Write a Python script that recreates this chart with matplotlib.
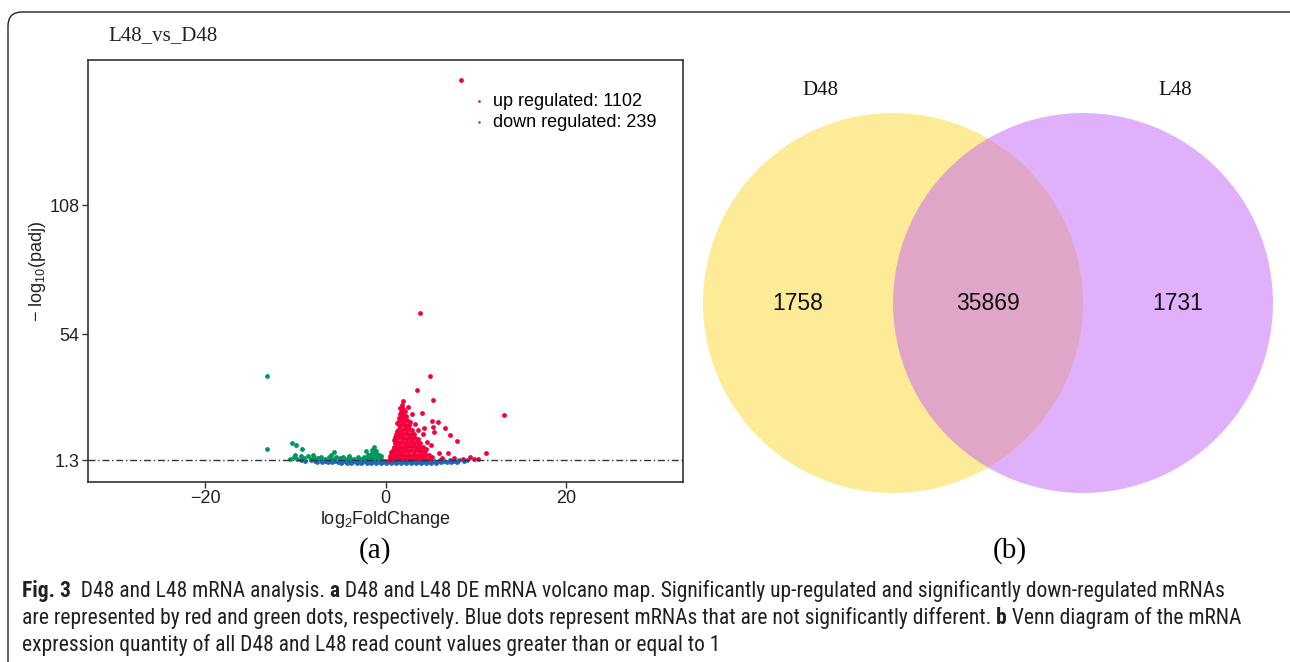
import matplotlib
matplotlib.use('Agg')
import matplotlib.pyplot as plt
from matplotlib import font_manager
from matplotlib.patches import Circle, FancyBboxPatch

# ---- volcano data (log2FoldChange, -log10(padj)) ----
up_x = [8.33, 3.78, 4.9, 13.1, 3.5, 1.97, 5.3, 1.85, 4.07, 2.9, 5.2, 5.85, 4.3, 5.3, 6.6,
        5.4, 7.1, 4.2, 4.6, 7.9, 5.9, 6.9, 11.1, 9.4, 10.3, 9.8, 7.6, 8.6, 6.3, 5.2,
        3.3, 2.5, 3.6, 4.5, 5.0,
        0.45, 0.55, 0.75, 0.85, 0.8, 0.9,
        1.05, 1.15, 1.1, 1.2, 1.05, 1.2, 1.15,
        1.35, 1.45, 1.4, 1.5, 1.35, 1.45, 1.4, 1.5, 1.45, 1.55,
        1.7, 1.75, 1.65, 1.75, 1.7, 1.8, 1.65, 1.75, 1.7, 1.8, 1.75,
        2.0, 2.05, 1.95, 2.05, 2.0, 2.1, 1.95, 2.05, 2.0, 2.1, 2.0, 2.05,
        2.3, 2.35, 2.25, 2.35, 2.3, 2.4, 2.25, 2.35, 2.3, 2.4, 2.3,
        2.6, 2.65, 2.55, 2.65, 2.6, 2.7, 2.55, 2.65, 2.6, 2.7,
        2.9, 2.95, 2.85, 2.95, 2.9, 3.0, 2.85, 2.95,
        3.2, 3.25, 3.15, 3.25, 3.2, 3.3, 3.15,
        3.5, 3.55, 3.45, 3.55, 3.5, 3.6,
        3.8, 3.85, 3.75, 3.85, 3.8,
        4.1, 4.15, 4.05, 4.2,
        4.4, 4.45, 4.4,
        4.8, 4.85,
        0.95, 1.25, 1.6, 1.9, 2.15, 1.3, 1.55, 1.85, 2.2, 1.0,
        0.35, 0.65, 1.6, 1.8, 1.7]
up_y = [160.3, 62.8, 36.4, 20.0, 30.6, 26.1, 26.4, 22.9, 20.8, 20.5, 17.7, 17.3, 14.7, 15.2, 14.6,
        13.1, 11.8, 12.2, 9.0, 9.2, 4.4, 4.1, 4.4, 2.4, 1.7, 1.6, 2.0, 1.9, 2.2, 2.5,
        16.5, 23.5, 14.0, 6.0, 7.5,
        1.6, 2.9, 1.9, 3.6, 5.3, 6.9,
        1.7, 3.3, 5.0, 6.8, 8.5, 10.2, 12.1,
        2.0, 3.7, 5.5, 7.2, 9.0, 10.8, 12.6, 14.3, 16.1, 17.6,
        1.8, 3.4, 5.1, 6.9, 8.7, 10.5, 12.3, 14.0, 15.9, 17.7, 19.4,
        1.6, 3.3, 5.0, 6.8, 8.6, 10.4, 12.2, 14.1, 15.8, 17.6, 19.5, 21.2,
        1.9, 3.6, 5.4, 7.1, 8.9, 10.7, 12.5, 14.3, 16.0, 17.9, 19.6,
        1.7, 3.4, 5.2, 7.0, 8.8, 10.5, 12.3, 14.1, 15.9, 17.4,
        1.8, 3.6, 5.3, 7.1, 8.8, 10.6, 12.3, 14.0,
        1.6, 3.4, 5.1, 6.9, 8.6, 10.4, 12.1,
        1.9, 3.6, 5.3, 7.0, 8.8, 10.3,
        1.7, 3.4, 5.2, 6.9, 8.5,
        1.8, 3.5, 5.2, 6.7,
        1.6, 3.3, 5.0,
        1.9, 3.3,
        9.5, 13.5, 20.5, 22.5, 21.8, 16.8, 19.0, 20.2, 18.8, 11.0,
        1.5, 4.5, 23.0, 24.5, 21.5]

down_x = [-13.2, -13.2, -10.4, -9.95, -9.3, -5.7, -2.2, -1.85,
          -10.6, -10.2, -9.8, -9.4, -9.0, -8.6, -8.3, -7.9, -7.5, -7.1, -6.7, -6.3, -5.9,
          -5.5, -5.1, -4.7, -4.3, -3.9, -3.5, -3.1, -2.7, -2.4, -10.0, -8.0, -6.0, -4.0,
          -2.0, -1.9, -1.7, -1.6, -1.55, -1.4, -1.35, -1.3, -1.25, -1.1, -1.05, -1.0,
          -0.8, -0.75, -0.55, -0.5]
down_y = [36.4, 5.9, 8.3, 7.6, 5.8, 4.8, 5.1, 3.4,
          1.8, 2.6, 1.9, 3.0, 2.2, 2.8, 1.8, 2.5, 2.0, 2.7, 1.9, 2.4, 1.8,
          2.6, 2.0, 2.5, 1.8, 2.3, 1.9, 2.6, 1.8, 2.4, 3.4, 3.3, 3.2, 3.0,
          2.0, 3.3, 2.2, 3.9, 5.4, 2.0, 3.7, 5.5, 6.9, 2.1, 3.8, 5.2,
          2.0, 3.4, 1.9, 2.9]

ns_x = [-9.4, -8.9, -8.3, -7.8, -7.2, -6.7, -6.1, -5.6, -5.0, -4.5, -3.9, -3.4, -2.8, -2.3,
        -1.7, -1.2, -0.6, -0.1, 0.5, 1.0, 1.6, 2.1, 2.7, 3.2, 3.8, 4.3, 4.9, 5.4, 6.0, 6.5,
        7.1, 7.6, 8.2, 8.7, 9.0,
        -7.6, -7.0, -6.4, -5.9, -5.3, -4.8, -4.2, -3.7, -3.1, -2.6, -2.0, -1.5, -0.9, -0.4,
        0.2, 0.7, 1.3, 1.8, 2.4, 2.9, 3.5, 4.0, 4.6, 5.1, 5.7, 6.2, 6.8, 7.3, 7.9,
        -4.9, -4.3, -3.8, -3.2, -2.7, -2.1, -1.6, -1.0, -0.5, 0.1, 0.6, 1.2, 1.7, 2.3,
        2.8, 3.4, 3.9, 4.5, 5.0, 5.6]
ns_y = [1.1, 1.0, 1.1, 1.0, 1.1, 1.0, 1.1, 1.0, 1.1, 1.0, 1.1, 1.0, 1.1, 1.0,
        1.1, 1.0, 1.1, 1.0, 1.1, 1.0, 1.1, 1.0, 1.1, 1.0, 1.1, 1.0, 1.1, 1.0, 1.1, 1.0,
        1.1, 1.0, 1.1, 1.0, 1.1,
        0.4, 0.5, 0.4, 0.5, 0.4, 0.5, 0.4, 0.5, 0.4, 0.5, 0.4, 0.5, 0.4, 0.5,
        0.4, 0.5, 0.4, 0.5, 0.4, 0.5, 0.4, 0.5, 0.4, 0.5, 0.4, 0.5, 0.4, 0.5, 0.4,
        0.0, 0.05, 0.0, 0.05, 0.0, 0.05, 0.0, 0.05, 0.0, 0.05, 0.0, 0.05, 0.0, 0.05,
        0.0, 0.05, 0.0, 0.05, 0.0, 0.05]

n_up = 1102
n_down = 239
padj_cut = 1.3
x_ticks = [-20, 0, 20]
y_ticks = [1.3, 54, 108]

# ---- venn data ----
venn_sets = ['D48', 'L48']
venn_counts = [1758, 35869, 1731]   # only D48, both, only L48

caption_lines = [
    [("Fig. 3", True), ("  D48 and L48 mRNA analysis. ", False), ("a", True),
     (" D48 and L48 DE mRNA volcano map. Significantly up-regulated and significantly down-regulated mRNAs", False)],
    [("are represented by red and green dots, respectively. Blue dots represent mRNAs that are not significantly different. ", False),
     ("b", True), (" Venn diagram of the mRNA", False)],
    [("expression quantity of all D48 and L48 read count values greater than or equal to 1", False)],
]

RED = '#F5003D'
GREEN = '#00965F'
BLUE = '#1C67C6'

plt.rcParams['font.family'] = ['Liberation Sans', 'DejaVu Sans']
plt.rcParams['mathtext.default'] = 'regular'

fig = plt.figure(figsize=(12.9, 6.62), dpi=100)

# overlay in pixel units for frame, caption, panel letters
bg = fig.add_axes([0, 0, 1, 1], zorder=0)
bg.set_xlim(0, 1290)
bg.set_ylim(662, 0)
bg.axis('off')
bg.add_patch(FancyBboxPatch((8, 12), 1300, 700, boxstyle='round,pad=0,rounding_size=14',
                            fc='none', ec='#222222', lw=1.0))

# ---- volcano ----
ax = fig.add_axes([88 / 1290, 1 - 482 / 662, 595 / 1290, 422 / 662], zorder=2)
ax.scatter(ns_x, ns_y, s=12, c=BLUE, lw=0, zorder=2)
sc_down = ax.scatter(down_x, down_y, s=12, c=GREEN, lw=0, zorder=3)
sc_up = ax.scatter(up_x, up_y, s=12, c=RED, lw=0, zorder=3)
ax.axhline(padj_cut, color='#333333', lw=1.0, ls=(0, (5, 2, 1, 2)), zorder=4)
ax.set_xlim(-33, 33)
ax.set_ylim(-7.9, 168.7)
ax.set_xticks(x_ticks)
ax.set_xticklabels(['\u221220', '0', '20'])
ax.set_yticks(y_ticks)
ax.set_yticklabels(['1.3', '54', '108'])
ax.tick_params(labelsize=13, color='#333333', labelcolor='#222222', length=4, width=1, pad=2)
for sp in ax.spines.values():
    sp.set_color('#333333')
    sp.set_linewidth(1.2)
ax.set_xlabel('log$_{2}$FoldChange', fontsize=13, color='#222222', labelpad=1)
ax.set_ylabel('\u2212 log$_{10}$(padj)', fontsize=13, color='#222222', labelpad=1)
ax.legend([sc_up, sc_down], [f'up regulated: {n_up}', f'down regulated: {n_down}'],
          loc='upper left', bbox_to_anchor=(0.648, 0.922), frameon=False, fontsize=13,
          markerscale=0.55, scatterpoints=1, handlelength=0.6, handletextpad=0.45,
          labelspacing=0.22, borderpad=0, borderaxespad=0)

bg.text(108, 36, 'L48_vs_D48', fontsize=15, family='Liberation Serif', ha='left', va='center',
        color='#222222')

# ---- venn ----
vax = fig.add_axes([703 / 1290, 1 - 493 / 662, 570 / 1290, 380 / 662], zorder=1)
vax.set_xlim(-1.5, 1.5)
vax.set_ylim(-1, 1)
vax.axis('off')
vax.add_patch(Circle((-0.5, 0), 1, fc='#FDD931', alpha=0.5, lw=0))
vax.add_patch(Circle((0.5, 0), 1, fc='#C563F9', alpha=0.5, lw=0))
for xpos, n in zip([-1.0, 0.0, 1.0], venn_counts):
    vax.text(xpos, 0.0, str(n), fontsize=16.5, ha='center', va='center', color='#111111')
for xpos, name in zip([-0.884, 0.984], venn_sets):
    vax.text(xpos, 1.12, name, fontsize=15, family='Liberation Serif', ha='center',
             va='center', color='#111111', clip_on=False)

bg.text(375, 551, '(a)', fontsize=21, family='Liberation Serif', ha='center', va='center')
bg.text(1010, 551, '(b)', fontsize=21, family='Liberation Serif', ha='center', va='center')

# ---- caption: narrow sans if one is installed ----
fonts = [(f.name, f.stretch) for f in font_manager.fontManager.ttflist]
names = {n for n, _ in fonts}
cap_font, cap_stretch = 'Liberation Sans', 'normal'
for cand in ['Liberation Sans Narrow', 'Roboto Condensed', 'Open Sans Condensed',
             'DejaVu Sans Condensed', 'Noto Sans Condensed']:
    if cand in names:
        cap_font = cand
        break
else:
    if ('DejaVu Sans', 'condensed') in fonts:
        cap_font, cap_stretch = 'DejaVu Sans', 'condensed'

renderer = fig.canvas.get_renderer()


def make_text(x, y, s, size, bold):
    return bg.text(x, y, s, fontsize=size, family=cap_font, stretch=cap_stretch,
                   weight='bold' if bold else 'normal', ha='left', va='center',
                   color='#231F20')


def line_width(parts, size):
    w = 0
    for s, b in parts:
        t = make_text(0, 0, s, size, b)
        w += t.get_window_extent(renderer).width
        t.remove()
    return w


cap_size = 14 * 1213 / line_width(caption_lines[0], 14)
for row, parts in enumerate(caption_lines):
    x = 22
    y = 591 + 27 * row
    for s, b in parts:
        t = make_text(x, y, s, cap_size, b)
        x += t.get_window_extent(renderer).width

fig.savefig('out.png', dpi=100)
